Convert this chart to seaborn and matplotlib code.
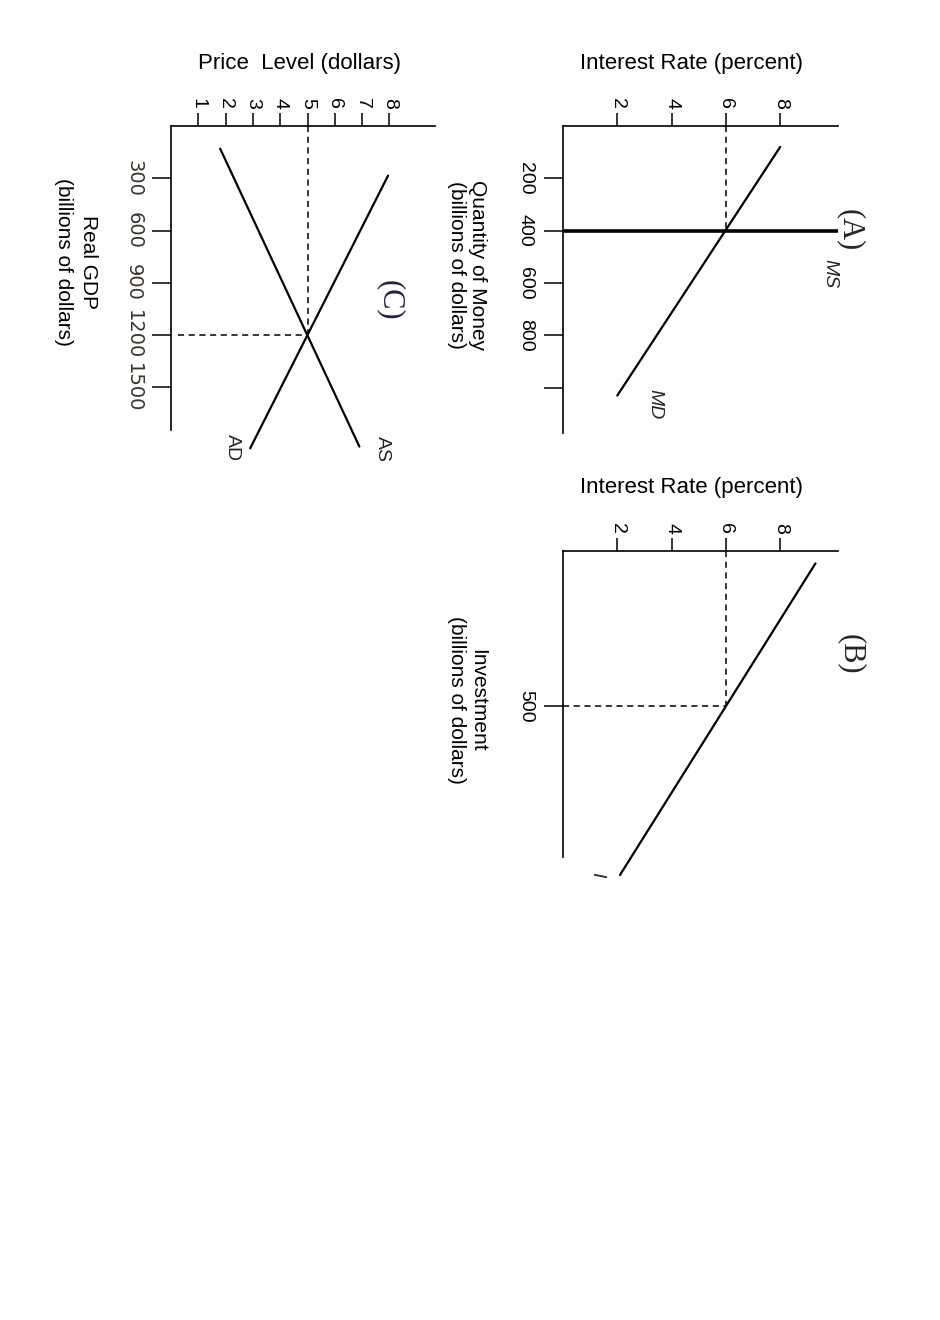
import pandas as pd
import matplotlib
matplotlib.use('Agg')
import matplotlib.pyplot as plt
import seaborn as sns

# (A) money market
rate_ticks = [2, 4, 6, 8]
money_ticks = [200, 400, 600, 800, 1000]
money_tick_labels = ['200', '400', '600', '800', '']
md_rate = [8.0, 2.0]
md_quantity = [80, 1030]
ms_quantity = 400
eq_rate = 6

# (B) investment demand
invest_ticks = [500]
inv_rate = [9.3, 2.1]
inv_amount = [40, 1045]
eq_investment = 500

# (C) aggregate demand / aggregate supply
price_ticks = [1, 2, 3, 4, 5, 6, 7, 8]
gdp_ticks = [300, 600, 900, 1200, 1500]
ad_price = [7.95, 2.9]
ad_gdp = [285, 1850]
as_price = [1.8, 6.9]
as_gdp = [130, 1840]
eq_price = 5
eq_gdp = 1200

sns.set_theme(style='ticks')
plt.rcParams['font.family'] = ['Liberation Sans', 'DejaVu Sans']

W, H = 940, 1320
fig = plt.figure(figsize=(W / 100, H / 100), dpi=100)
dash = (0, (4, 3))


def make_axes(left, top, right, bottom):
    return fig.add_axes([left / W, 1 - bottom / H, (right - left) / W, (bottom - top) / H])


def style_axes(ax, xlim, ylim):
    ax.set_xlim(*xlim)
    ax.set_ylim(*ylim)
    ax.xaxis.tick_top()
    ax.spines['right'].set_visible(False)
    ax.spines['bottom'].set_visible(False)
    for s in ['left', 'top']:
        ax.spines[s].set_linewidth(1.2)
        ax.spines[s].set_color('black')
    ax.tick_params(axis='x', direction='out', length=9.5, width=1.1, pad=3,
                   labelrotation=-90, labelsize=14, colors='black')
    ax.tick_params(axis='y', direction='out', length=14, width=1.1, pad=7,
                   labelrotation=-90, labelsize=14, colors='black')
    plt.setp(ax.get_yticklabels(), va='center')


def labels(ax, xlabel, xpos, ylabel, ypos, ls=1.15):
    ax.set_xlabel(xlabel, fontsize=16, va='center', ha='center', color='black')
    ax.xaxis.set_label_coords(xpos[0] / W, 1 - xpos[1] / H, transform=fig.transFigure)
    ax.set_ylabel(ylabel, fontsize=15, rotation=270, va='center', ha='center',
                  linespacing=ls, color='black')
    ax.yaxis.set_label_coords(ypos[0] / W, 1 - ypos[1] / H, transform=fig.transFigure)


# ---- (A)
axA = make_axes(563, 126, 838, 433)
md = pd.DataFrame({'rate': md_rate, 'quantity': md_quantity})
sns.lineplot(data=md, x='rate', y='quantity', ax=axA, color='black', lw=1.6,
             sort=False, estimator=None, clip_on=False)
axA.axhline(ms_quantity, color='black', lw=2.6)
axA.vlines(eq_rate, 0, ms_quantity, colors='black', linestyles=[dash], lw=1.1)
style_axes(axA, (0, 10.13), (1173, 0))
axA.set_xticks(rate_ticks)
axA.set_yticks(money_ticks, money_tick_labels)
plt.setp(axA.get_yticklabels(), va='center')
labels(axA, 'Interest Rate (percent)', (692, 63),
       'Quantity of Money\n(billions of dollars)', (467, 265))
axA.text(9.84, 563, 'MS', rotation=270, style='italic', fontsize=14, ha='center', va='center')
axA.text(3.40, 1063, 'MD', rotation=270, style='italic', fontsize=14, ha='center', va='center')
fig.text(850 / W, 1 - 230 / H, '(A)', rotation=270, fontsize=22, family='Liberation Serif',
         ha='center', va='center')

# ---- (B)
axB = make_axes(563, 551, 838, 857)
inv = pd.DataFrame({'rate': inv_rate, 'investment': inv_amount})
sns.lineplot(data=inv, x='rate', y='investment', ax=axB, color='black', lw=1.6,
             sort=False, estimator=None, clip_on=False)
axB.vlines(eq_rate, 0, eq_investment, colors='black', linestyles=[dash], lw=1.1)
axB.hlines(eq_investment, 0, eq_rate, colors='black', linestyles=[dash], lw=1.1)
style_axes(axB, (0, 10.13), (987, 0))
axB.set_xticks(rate_ticks)
axB.set_yticks(invest_ticks)
plt.setp(axB.get_yticklabels(), va='center')
labels(axB, 'Interest Rate (percent)', (692, 487),
       'Investment\n(billions of dollars)', (467, 700))
axB.text(1.26, 1045, 'I', rotation=270, style='italic', fontsize=14, ha='center', va='center')
fig.text(851 / W, 1 - 654 / H, '(B)', rotation=270, fontsize=22, family='Liberation Serif',
         ha='center', va='center')

# ---- (C)
axC = make_axes(171, 126, 435, 430)
ad = pd.DataFrame({'price': ad_price, 'gdp': ad_gdp})
sup = pd.DataFrame({'price': as_price, 'gdp': as_gdp})
sns.lineplot(data=ad, x='price', y='gdp', ax=axC, color='black', lw=1.6,
             sort=False, estimator=None, clip_on=False)
sns.lineplot(data=sup, x='price', y='gdp', ax=axC, color='black', lw=1.6,
             sort=False, estimator=None, clip_on=False)
axC.vlines(eq_price, 0, eq_gdp, colors='black', linestyles=[dash], lw=1.1)
axC.hlines(eq_gdp, 0.25, eq_price, colors='black', linestyles=[dash], lw=1.1)
style_axes(axC, (0, 9.67), (1745, 0))
axC.set_xticks(price_ticks)
axC.set_yticks(gdp_ticks)
axC.tick_params(axis='y', labelsize=14, pad=6)
plt.setp(axC.get_yticklabels(), va='center', family='DejaVu Sans', color='#3a332c')
labels(axC, 'Price  Level (dollars)', (300, 63),
       'Real GDP\n(billions of dollars)', (76, 262), ls=1.35)
axC.text(2.25, 1844, 'AD', rotation=270, fontsize=14, ha='center', va='center')
axC.text(7.74, 1856, 'AS', rotation=270, fontsize=14, ha='center', va='center')
fig.text(390 / W, 1 - 300 / H, '(C)', rotation=270, fontsize=22, family='Liberation Serif',
         ha='center', va='center', color='#222244')

fig.savefig('out.png', dpi=100, facecolor='white')
